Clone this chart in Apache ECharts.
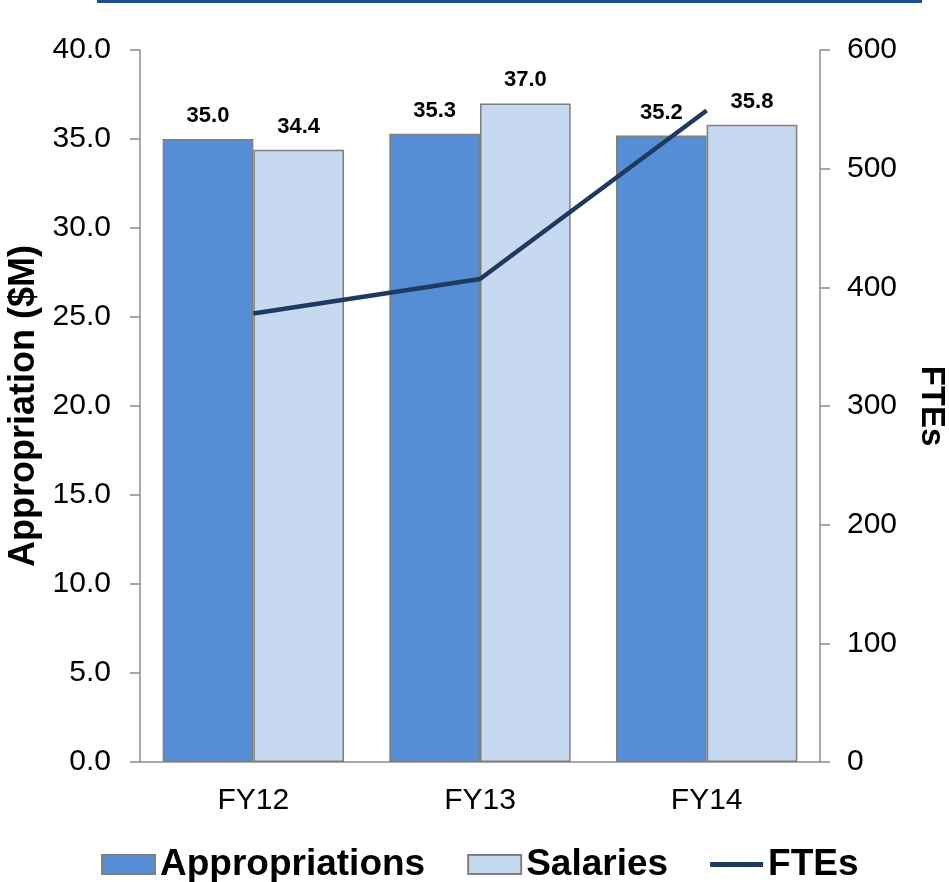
<!DOCTYPE html>
<html>
<head>
<meta charset="utf-8">
<script src="https://cdn.jsdelivr.net/npm/echarts@6/dist/echarts.min.js"></script>
<style>
html,body{margin:0;padding:0;background:#fff;}
#c{width:949px;height:882px;}
</style>
</head>
<body>
<div id="c"></div>
<script>
const categories = ['FY12', 'FY13', 'FY14'];
const appropriations = [35.0, 35.3, 35.2];
const salaries = [34.4, 37.0, 35.8];
const ftes = [378, 407, 549];

const chart = echarts.init(document.getElementById('c'), null, {renderer: 'canvas'});
const font = '"Liberation Sans", Arial, sans-serif';
const axisGray = '#8c8c8c';
const lineColor = '#1f3a60';

chart.setOption({
  animation: false,
  textStyle: {fontFamily: font},
  graphic: [{
    type: 'rect',
    shape: {x: 97, y: 0, width: 825, height: 3},
    style: {fill: '#1f4e8c'}
  }],
  grid: {left: 140, right: 129, top: 50, bottom: 120, containLabel: false, outerBoundsMode: 'none'},
  legend: {
    top: 841,
    left: 96,
    itemWidth: 53,
    itemHeight: 19,
    itemGap: 42,
    symbolKeepAspect: true,
    textStyle: {fontFamily: font, fontSize: 37, fontWeight: 'bold', color: '#000'},
    data: [
      {name: 'Appropriations', icon: 'rect'},
      {name: 'Salaries', icon: 'rect'},
      {name: 'FTEs', icon: 'path://M0,0 L53,0 L53,5 L0,5 Z', itemStyle: {color: lineColor}}
    ]
  },
  xAxis: {
    type: 'category',
    data: categories,
    axisLine: {lineStyle: {color: axisGray, width: 1.5}},
    axisTick: {show: false},
    axisLabel: {fontSize: 30, color: '#000', margin: 24, fontFamily: font}
  },
  yAxis: [{
    type: 'value',
    min: 0, max: 40, interval: 5,
    name: 'Appropriation ($M)',
    nameLocation: 'middle',
    nameGap: 96,
    nameRotate: 90,
    nameTextStyle: {fontSize: 36, fontWeight: 'bold', color: '#000', fontFamily: font},
    axisLine: {show: true, lineStyle: {color: axisGray, width: 1.5}},
    axisTick: {show: true, length: 10, lineStyle: {color: axisGray, width: 1.5}},
    splitLine: {show: false},
    axisLabel: {fontSize: 30, color: '#000', margin: 29, fontFamily: font,
      formatter: v => v.toFixed(1)}
  }, {
    type: 'value',
    min: 0, max: 600, interval: 100,
    position: 'right',
    name: 'FTEs',
    nameLocation: 'middle',
    nameGap: 95,
    nameRotate: -90,
    nameTextStyle: {fontSize: 33, fontWeight: 'bold', color: '#000', fontFamily: font},
    axisLine: {show: true, lineStyle: {color: axisGray, width: 1.5}},
    axisTick: {show: true, length: 10, lineStyle: {color: axisGray, width: 1.5}},
    splitLine: {show: false},
    axisLabel: {fontSize: 30, color: '#000', margin: 27, fontFamily: font}
  }],
  series: [{
    name: 'Appropriations',
    type: 'bar',
    data: appropriations,
    barGap: '0%',
    barCategoryGap: '20%',
    itemStyle: {color: '#558ed5', borderColor: '#7f7f7f', borderWidth: 1.5},
    label: {show: true, position: 'top', distance: 12, fontSize: 22, fontWeight: 'bold',
      color: '#000', fontFamily: font, formatter: p => p.value.toFixed(1)}
  }, {
    name: 'Salaries',
    type: 'bar',
    data: salaries,
    itemStyle: {color: '#c6d9f1', borderColor: '#7f7f7f', borderWidth: 1.5},
    label: {show: true, position: 'top', distance: 12, fontSize: 22, fontWeight: 'bold',
      color: '#000', fontFamily: font, formatter: p => p.value.toFixed(1)}
  }, {
    name: 'FTEs',
    type: 'line',
    yAxisIndex: 1,
    data: ftes,
    symbol: 'none',
    lineStyle: {color: lineColor, width: 4.5},
    itemStyle: {color: lineColor}
  }]
});
</script>
</body>
</html>
